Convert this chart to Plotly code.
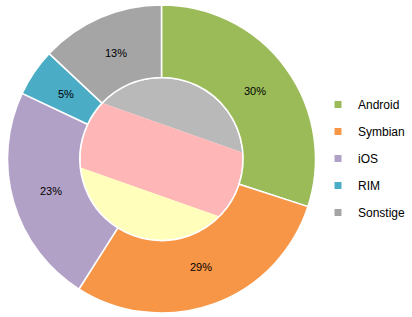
import numpy as np
import plotly.graph_objects as go

# ---- data ----
labels = ["Android", "Symbian", "iOS", "RIM", "Sonstige"]
shares = [30, 29, 23, 5, 13]
colors = ["#9BBB59", "#F79646", "#B2A1C7", "#4BACC6", "#A5A5A5"]

# inner decorative striped disc (three stripes, top to bottom)
stripe_colors = ["#B9B9B9", "#FFB6B6", "#FFFFBB"]

W, H = 412, 317
cx, cy, R_out = 161.5, 159.0, 154.0
hole = 0.53
R_in = R_out * hole
theta = np.deg2rad(19.5)
bounds = [-R_in, -33.0, 35.0, R_in]

fig = go.Figure()

# striped inner disc, computed geometry
u = np.array([np.cos(theta), np.sin(theta)])
n = np.array([-np.sin(theta), np.cos(theta)])
for i, col in enumerate(stripe_colors):
    a, b = bounds[i], bounds[i + 1]
    p1 = np.arcsin(np.clip(a / R_in, -1, 1))
    p2 = np.arcsin(np.clip(b / R_in, -1, 1))
    ph = np.concatenate([np.linspace(p1, p2, 80), np.linspace(np.pi - p2, np.pi - p1, 80)])
    xs = cx + R_in * (np.cos(ph) * u[0] + np.sin(ph) * n[0])
    ys = cy + R_in * (np.cos(ph) * u[1] + np.sin(ph) * n[1])
    fig.add_trace(go.Scatter(x=xs, y=ys, fill="toself", fillcolor=col, mode="lines",
                             line=dict(width=0, color=col), hoverinfo="skip", showlegend=False))
# white ring around disc
ph = np.linspace(0, 2 * np.pi, 300)
fig.add_trace(go.Scatter(x=cx + R_in * np.cos(ph), y=cy + R_in * np.sin(ph), mode="lines",
                         line=dict(width=1.5, color="white"), hoverinfo="skip", showlegend=False))

# outer donut
fig.add_trace(go.Pie(
    labels=labels, values=shares, sort=False, direction="clockwise", rotation=0,
    hole=hole, marker=dict(colors=colors, line=dict(color="white", width=1.5)),
    textinfo="none",
    domain=dict(x=[(cx - R_out) / W, (cx + R_out) / W],
                y=[(H - cy - R_out) / H, (H - cy + R_out) / H]),
    showlegend=False, hoverinfo="label+percent",
))

# percentage labels at the middle of each ring segment (derived from data)
total = float(sum(shares))
cum = np.cumsum([0] + shares)
r_lab = 0.5 * (R_in + R_out) - 2.5
for i, v in enumerate(shares):
    ang = np.deg2rad(360.0 * (cum[i] + v / 2) / total)
    fig.add_annotation(x=cx + r_lab * np.sin(ang), y=cy - r_lab * np.cos(ang),
                       xref="x", yref="y", text=f"{round(100 * v / total)}%",
                       showarrow=False,
                       font=dict(family="Liberation Sans", size=11, color="black"))

# legend entries
for i, (lab, col) in enumerate(zip(labels, colors)):
    fig.add_trace(go.Scatter(x=[None], y=[None], mode="markers", name=lab,
                             marker=dict(symbol="square", size=7, color=col),
                             legendgroup=f"g{i}", showlegend=True))

fig.update_layout(
    width=W, height=H, margin=dict(l=0, r=0, t=0, b=0, autoexpand=False),
    paper_bgcolor="white", plot_bgcolor="white",
    xaxis=dict(range=[0, W], visible=False, fixedrange=True, domain=[0, 1]),
    yaxis=dict(range=[H, 0], visible=False, fixedrange=True, domain=[0, 1]),
    legend=dict(x=1 - 1 / W, y=1 - 90 / H, xanchor="right", yanchor="top",
                font=dict(family="Liberation Sans", size=12, color="black"),
                tracegroupgap=8, itemwidth=30, bgcolor="rgba(0,0,0,0)"),
    showlegend=True,
)

fig.write_html("out.html")
